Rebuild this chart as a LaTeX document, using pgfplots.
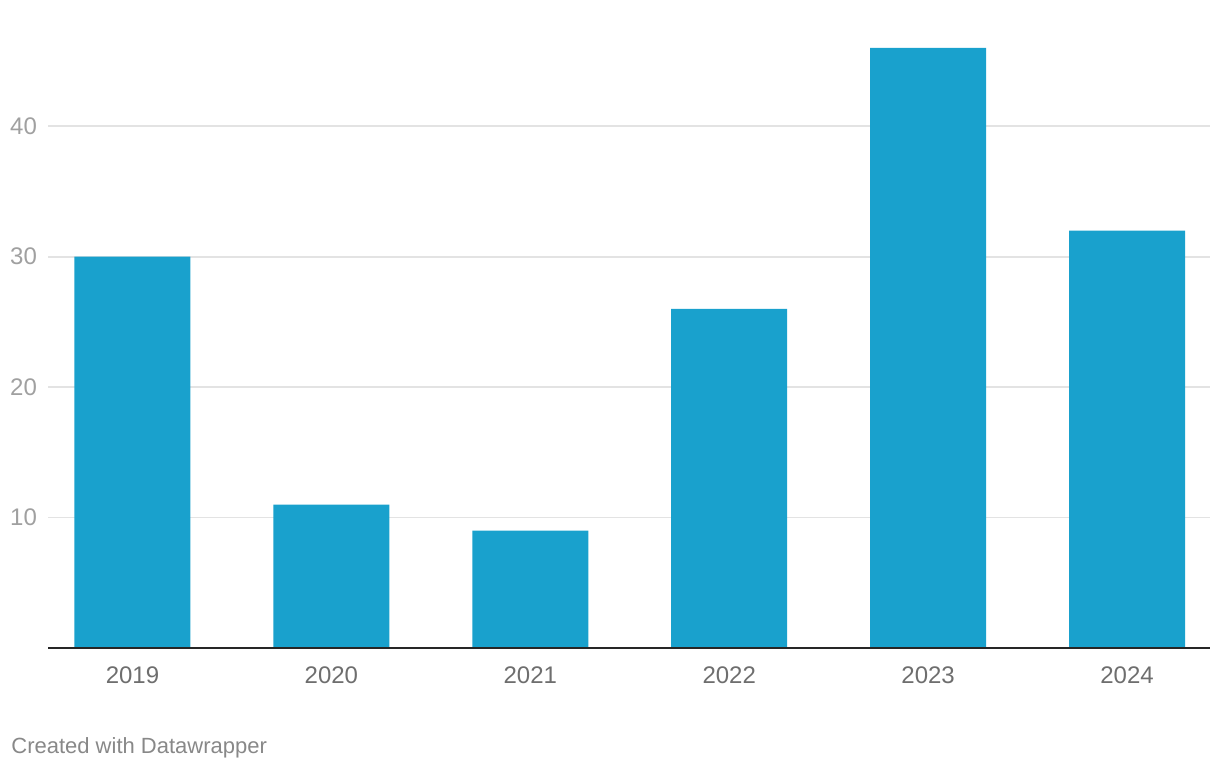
\documentclass[border=0pt]{standalone}
\usepackage{pgfplots}
\pgfplotsset{compat=1.18}
\usepackage{fontspec}
\setmainfont{Liberation Sans}
\definecolor{barblue}{HTML}{19A1CD}
\definecolor{gridgray}{HTML}{E3E3E3}
\definecolor{ylab}{HTML}{A0A0A0}
\definecolor{xlab}{HTML}{6E6E6E}
\definecolor{foot}{HTML}{888888}
\begin{document}
\begin{tikzpicture}
% page frame: 1220x770 px at 0.5pt per px
\useasboundingbox (0,0) rectangle (610pt,385pt);
\begin{axis}[
    at={(24pt,61pt)}, anchor=south west,
    scale only axis,
    width=581pt, height=300pt,
    xmin=-0.4246, xmax=5.417,
    ymin=0, ymax=46,
    axis line style={draw=none},
    clip=false,
    xtick={0,1,2,3,4,5},
    xticklabels={2019,2020,2021,2022,2023,2024},
    ytick={10,20,30,40},
    ymajorgrids,
    grid style={gridgray, line width=0.9pt},
    major tick length=0pt,
    tick label style={font=\fontsize{12}{14}\selectfont},
    yticklabel style={ylab, anchor=east, xshift=-2pt},
    xticklabel style={xlab, anchor=north, yshift=-6pt},
    /pgf/number format/assume math mode=true,
]
\addplot[ybar, bar width=0.583, fill=barblue, draw=none] coordinates {
    (0,30) (1,11) (2,9) (3,26) (4,46) (5,32)
};
\draw[black!85, line width=1pt] (axis cs:-0.4246,0) -- (axis cs:5.417,0);
\end{axis}
\node[anchor=base west, inner sep=0pt, text=foot, font=\fontsize{11}{13}\selectfont] at (5.5pt,8pt) {Created with Datawrapper};
\end{tikzpicture}
\end{document}
